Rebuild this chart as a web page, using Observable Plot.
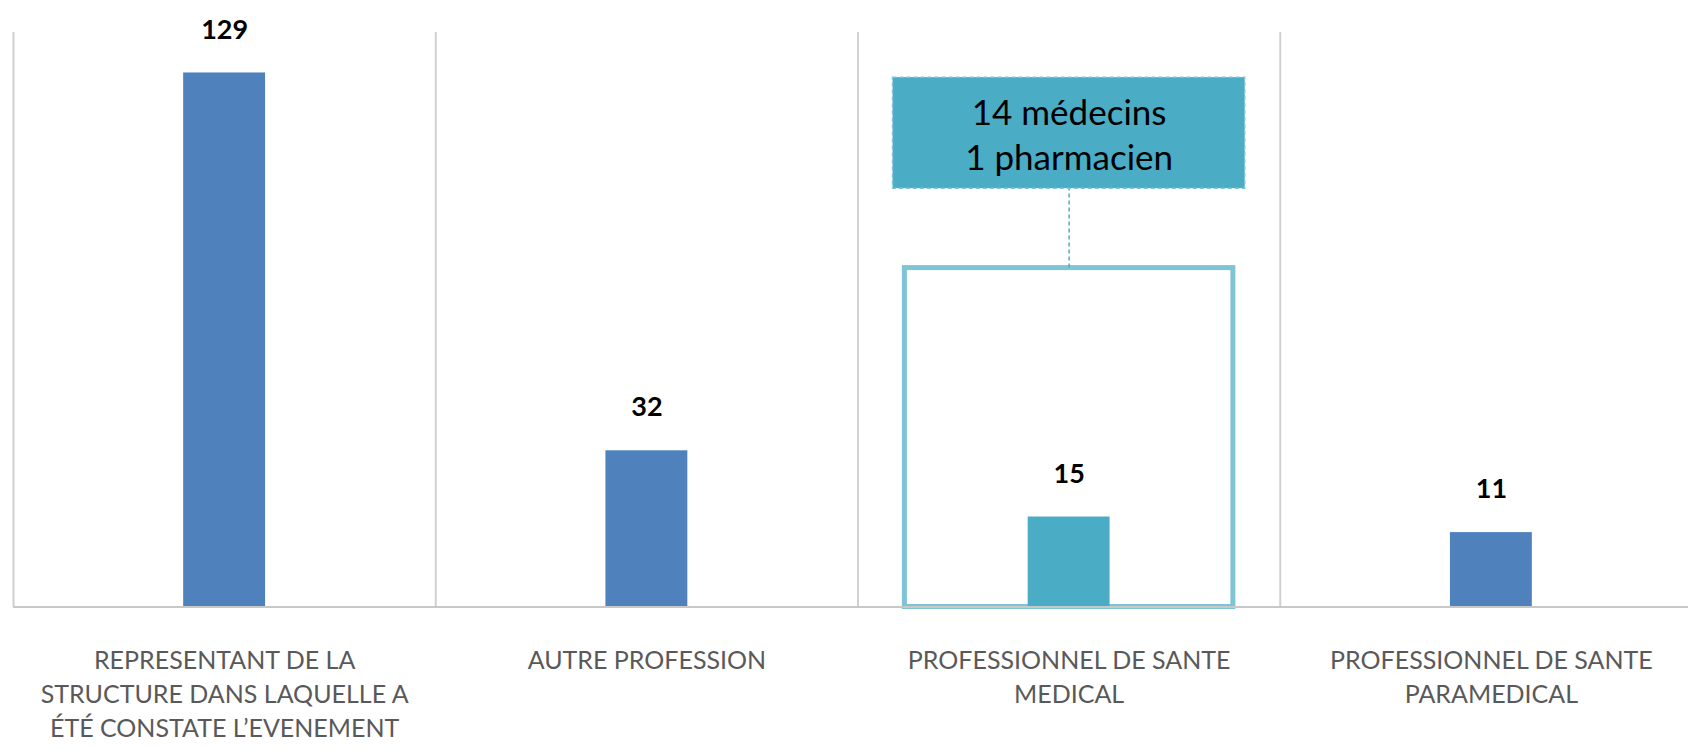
<!DOCTYPE html>
<html><head><meta charset="utf-8">
<script src="https://cdn.jsdelivr.net/npm/d3@7"></script>
<script src="https://cdn.jsdelivr.net/npm/@observablehq/plot@0.6"></script>
<style>html,body{margin:0;padding:0;background:#fff;overflow:hidden} svg{display:block}</style>
</head><body><div id="chart"></div>
<script>
// ---- data ----
const categories = [
  "REPRESENTANT DE LA\nSTRUCTURE DANS LAQUELLE A\nÉTÉ CONSTATE L’EVENEMENT",
  "AUTRE PROFESSION",
  "PROFESSIONNEL DE SANTE\nMEDICAL",
  "PROFESSIONNEL DE SANTE\nPARAMEDICAL"
];
const values = [129, 32, 15, 11];
const highlighted = [false, false, true, false];
const calloutLines = ["14 médecins", "1 pharmacien"];
const calloutCategory = 2;

// ---- build table ----
const rows = categories.map((c, i) => ({cat: c, i, value: values[i], hl: highlighted[i]}));
const yFloor = -8.1, yTop = 147.6;       // axis extent (hidden axis)
const boxTop = 78.9;                      // highlight frame top (data units)
const calloutLow = 99.3, calloutHigh = 127.8;
const mid = d => d + 0.5;

const chart = Plot.plot({
  width: 1688,
  height: 749,
  marginTop: 0, marginBottom: 142.5, marginLeft: 0, marginRight: 0,
  style: {fontFamily: "Lato, 'Noto Sans', sans-serif", background: "#fff"},
  x: {domain: [0, 4], range: [13, 1702], axis: null},
  y: {domain: [yFloor, yTop], axis: null},
  marks: [
    // category separators
    Plot.ruleX(d3.range(categories.length), {stroke: "#D0D0D0", strokeWidth: 2, insetTop: 32}),
    // highlight frame around the medical category
    Plot.rect([calloutCategory], {
      x1: d => mid(d) - 0.389, x2: d => mid(d) + 0.389,
      y1: yFloor, y2: boxTop,
      fill: "none", stroke: "#7EC4D5", strokeWidth: 5
    }),
    // bars
    Plot.rectY(rows, {
      x1: d => mid(d.i) - 0.097, x2: d => mid(d.i) + 0.097,
      y1: yFloor, y2: "value",
      fill: d => d.hl ? "#4BACC6" : "#4F81BD"
    }),
    // baseline
    Plot.ruleY([yFloor], {x1: 0, x2: 4, stroke: "#C8C8C8", strokeWidth: 2}),
    // value labels
    Plot.text(rows, {
      x: d => mid(d.i), y: "value", text: d => String(d.value),
      dy: -43, fontSize: 27, fontWeight: "bold", fill: "#000"
    }),
    // category labels
    Plot.text(rows, {
      x: d => mid(d.i), text: "cat", frameAnchor: "bottom",
      lineAnchor: "top", dy: 37, fontSize: 25, lineHeight: 1.38, fill: "#595959"
    }),
    // callout connector
    Plot.ruleX([calloutCategory], {
      x: mid, y1: boxTop, y2: calloutLow,
      stroke: "#4BACC6", strokeWidth: 1.5, strokeDasharray: "4,3"
    }),
    // callout box
    Plot.rect([calloutCategory], {
      x1: d => mid(d) - 0.417, x2: d => mid(d) + 0.417,
      y1: calloutLow, y2: calloutHigh,
      fill: "#4BACC6", stroke: "#7CC3D6", strokeWidth: 1.5, strokeDasharray: "4,3"
    }),
    Plot.text([calloutLines.join("\n")], {
      x: mid(calloutCategory), y: (calloutLow + calloutHigh) / 2,
      text: d => d, fontSize: 35, lineHeight: 1.29, fill: "#000"
    })
  ]
});
document.getElementById("chart").appendChild(chart);
</script>
</body></html>
